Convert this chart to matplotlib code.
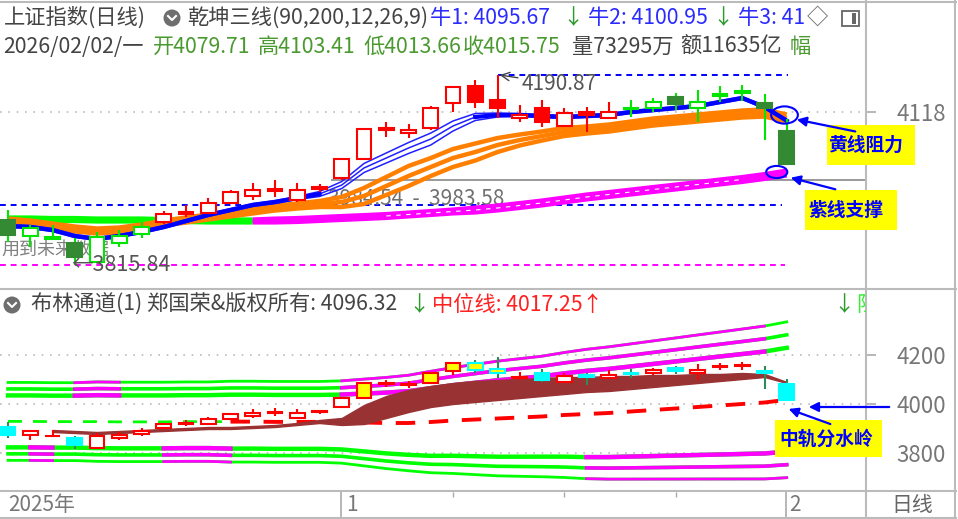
import matplotlib.pyplot as plt
from matplotlib.lines import Line2D
from matplotlib.patches import Rectangle, Ellipse, FancyArrowPatch

plt.rcParams['font.family'] = ['Noto Sans CJK SC', 'DejaVu Sans']

W, H = 958, 519

# daily bars 2025-12-11 .. 2026-02-02
opens = [3904.9, 3873.4, 3867.5, 3859.6, 3822.1, 3859.6, 3877.3, 3901.0, 3916.8, 3918.7,
         3938.5, 3952.3, 3962.1, 3944.4, 3966.1, 3987.8, 4025.2, 4082.4, 4076.5, 4086.3,
         4135.7, 4169.2, 4141.6, 4106.1, 4125.8, 4090.3, 4117.9, 4106.1, 4125.8, 4125.8,
         4147.5, 4125.8, 4149.5, 4155.4, 4135.7, 4079.71]
highs = [3924.6, 3895.1, 3895.1, 3869.4, 3881.3, 3885.2, 3901.0, 3922.7, 3934.5, 3948.3,
         3964.1, 3977.9, 3983.8, 3977.9, 3976.0, 4027.2, 4086.3, 4098.2, 4094.2, 4129.7,
         4169.2, 4181.0, 4190.87, 4131.7, 4141.6, 4125.8, 4127.8, 4137.6, 4141.6, 4145.5,
         4155.4, 4161.3, 4169.2, 4171.1, 4153.4, 4103.41]
lows = [3861.5, 3851.7, 3865.5, 3815.84, 3820.0, 3851.7, 3869.4, 3897.0, 3910.8, 3916.8,
        3936.5, 3944.4, 3950.3, 3940.4, 3960.1, 3983.8, 4023.3, 4068.6, 4066.6, 4082.4,
        4117.9, 4125.8, 4106.1, 4098.2, 4088.3, 4088.3, 4078.5, 4104.1, 4108.1, 4117.9,
        4121.8, 4098.2, 4137.6, 4139.6, 4062.7, 4013.66]
closes = [3875.3, 3889.1, 3871.4, 3832.0, 3871.4, 3873.4, 3891.1, 3916.8, 3920.7, 3938.5,
          3960.1, 3964.1, 3966.1, 3964.1, 3970.0, 4025.2, 4084.4, 4086.3, 4082.4, 4125.8,
          4167.2, 4137.6, 4125.8, 4112.0, 4098.2, 4115.9, 4112.0, 4117.9, 4123.8, 4137.6,
          4133.7, 4137.6, 4153.4, 4159.3, 4125.8, 4015.75]
# candle colouring used by the 乾坤三线 panel
top_style = (['dg', 'gh', 'gh', 'dg', 'gh', 'gh', 'gh'] + ['rh'] * 14 +
             ['rf', 'rf', 'rh', 'rf', 'rh', 'rf', 'rh', 'gh', 'gh', 'dg', 'gh', 'gh', 'gh', 'dg', 'dg'])
above_band = [16, 17, 18, 19, 20, 21, 22]  # yellow-filled bars in 布林通道

# 乾坤三线 lines
bull = [3893.1, 3891.1, 3885.1, 3873.4, 3867.5, 3873.4, 3881.3, 3891.1, 3902.9, 3914.8,
        3924.6, 3934.5, 3940.4, 3948.3, 3956.2, 3973.9, 4007.5, 4027.2, 4046.9, 4064.6,
        4090.3, 4108.1, 4112.0, 4112.0, 4110.0, 4108.1, 4110.0, 4112.0, 4117.9, 4121.8,
        4125.8, 4129.7, 4137.6, 4145.5, 4127.8, 4100.9]
bull_gap = [3.0] * 14 + [4.9, 6.9, 8.9, 9.9, 10.8, 11.8, 9.9, 6.9, 3.9] + [3.0] * 13
yellow = [3902.9, 3899.0, 3893.1, 3887.2, 3883.2, 3885.2, 3891.1, 3899.0, 3904.9, 3910.8,
          3916.8, 3922.7, 3928.6, 3932.5, 3936.5, 3940.4, 3952.3, 3972.0, 3991.7, 4009.4,
          4027.2, 4039.0, 4052.8, 4062.7, 4070.6, 4078.5, 4082.4, 4086.3, 4092.3, 4098.2,
          4102.1, 4106.1, 4110.0, 4114.0, 4115.9, 4106.1]
yellow_gap = [4.9] * 14 + [5.9, 9.9, 15.8, 17.7, 19.7, 17.7, 17.7, 16.8, 13.8, 10.8, 8.9, 7.9] + [6.9] * 10
bear = [3906.9, 3906.9, 3905.9, 3905.9, 3904.9, 3904.9, 3904.9, 3903.9, 3903.9, 3903.0,
        3903.0, 3903.0, 3903.9, 3904.9, 3906.9, 3908.9, 3910.8, 3912.8, 3915.8, 3918.7,
        3921.7, 3924.6, 3928.6, 3933.5, 3938.5, 3944.4, 3950.3, 3955.2, 3960.1, 3965.1,
        3970.0, 3974.9, 3979.9, 3984.8, 3990.7, 3997.6]
bear_gap = [3.0] * 12 + [3.9] * 9 + [4.9] * 15
high_mark, low_mark = 4190.87, 3815.84
support_line, gray_line = 3934.5, 3983.58

# 布林通道
boll_mid = [3929, 3929, 3928, 3928, 3928, 3927, 3927, 3927, 3928, 3928,
            3928, 3928, 3927, 3927, 3927, 3926.5, 3924.5, 3922.4, 3922.4, 3926.5,
            3932.6, 3936.7, 3940.8, 3944.9, 3949.0, 3955.1, 3959.2, 3963.3, 3969.4, 3975.5,
            3981.6, 3987.8, 3993.9, 4000.0, 4006.1, 4017.25]
boll_std = [53, 53, 53, 53, 54, 54, 54, 54, 54, 54, 55, 55, 55, 55, 55, 56, 59, 62,
            65, 69, 72, 75, 78, 80, 82, 85, 88, 90, 92, 94, 96, 98, 100, 102, 104, 106]
upper_hot = [(3, 5), (15, 34)]
lower_hot = [(1, 2), (7, 10), (26, 35)]
brown_top = [3893.9, 3889.8, 3885.7, 3889.8, 3893.9, 3898.0, 3902.0, 3906.1, 3906.1, 3910.2,
             3914.3, 3922.4, 3934.7, 3942.9, 3995.9, 4032.7, 4057.1, 4073.5, 4085.7, 4093.9,
             4098.0, 4102.1, 4106.1, 4110.2, 4110.2, 4114.3, 4114.3, 4118.4, 4118.4, 4122.5,
             4122.5, 4126.5, 4122.5, 4089.8]
brown_bot = [3885.7, 3881.6, 3877.5, 3881.6, 3885.7, 3889.8, 3893.9, 3898.0, 3898.0, 3902.0,
             3906.1, 3914.3, 3922.4, 3914.3, 3918.4, 3942.9, 3967.3, 3987.8, 4000.0, 4008.2,
             4016.3, 4024.5, 4032.7, 4040.8, 4049.0, 4053.1, 4061.2, 4069.4, 4077.6, 4085.7,
             4093.9, 4102.0, 4110.2, 4085.7]

n = len(closes)
xs = list(range(n))
RED, CYAN, YEL = '#ff0000', '#00ffff', '#ffff00'
LGREEN, DGREEN, MAG = '#00e600', '#338a33', '#ff00ff'
BLUE, ORANGE, BROWN = '#0000ff', '#ff8000', '#993333'
GRAY_T = '#555555'
HDR = 15.3


def fig_xy(px, py):
    return px / W, 1 - py / H


fig = plt.figure(figsize=(W / 100, H / 100), dpi=100)
XL = (-8 / 22.25, 858 / 22.25)

ax_top = fig.add_axes([0, 1 - 288 / H, 866 / W, 228 / H])
ax_bot = fig.add_axes([0, 1 - 492 / H, 866 / W, 202 / H])
ax_bar = fig.add_axes([0, 1 - 518 / H, 866 / W, 26 / H])
for ax in (ax_top, ax_bot, ax_bar):
    ax.set_xlim(*XL)
    for s in ax.spines.values():
        s.set_visible(False)
    ax.set_xticks([])
ax_top.set_ylim(3770.8, 4220.5)
ax_bot.set_ylim(3640.8, 4465.3)
ax_bar.set_ylim(0, 1)
ax_bar.set_yticks([])

for ax, ticks in ((ax_top, [4118]), (ax_bot, [3800, 4000, 4200])):
    ax.yaxis.tick_right()
    ax.set_yticks(ticks)
    ax.tick_params(axis='y', length=7, width=1.2, color='#aaaaaa', labelsize=16,
                   labelcolor='#777777', pad=15)
    for t in ticks:
        ax.axhline(t, color='#bbbbbb', lw=1.2, ls=(0, (1, 4)), zorder=0)


def draw_candle(ax, i, fc, ec, wc, w=0.66, lw=1.5):
    o, h, l, c = opens[i], highs[i], lows[i], closes[i]
    ax.vlines(i, l, h, color=wc, lw=lw, zorder=7)
    lo, hi = min(o, c), max(o, c)
    ax.add_patch(Rectangle((i - w / 2, lo), w, max(hi - lo, 0.3), fc=fc, ec=ec, lw=lw, zorder=8))


def three(ax, mid, gap, i0, i1, **kw):
    for s in (-1, 0, 1):
        ax.plot(xs[i0:i1 + 1], [m + s * g for m, g in zip(mid[i0:i1 + 1], gap[i0:i1 + 1])],
                solid_capstyle='butt', **kw)


# ---------------- top panel: 乾坤三线 ----------------
ax_top.hlines(high_mark, 22, 35.05, color=BLUE, lw=1.4, ls=(0, (3, 2.5)), zorder=2)
ax_top.hlines(support_line, XL[0], 34.8, color=BLUE, lw=1.4, ls=(0, (3, 2.5)), zorder=2)
ax_top.hlines(low_mark, XL[0], 34.9, color=MAG, lw=1.4, ls=(0, (3, 2.5)), zorder=2)
ax_top.hlines(gray_line, 14.5, XL[1], color='#999999', lw=1.4, zorder=2)

ax_top.text(-0.28, 3846, '用到未来数据', fontsize=13, color='#808080', va='center', zorder=1)
ax_top.text(14.4, 3946, '3984.54  -  3983.58', fontsize=15, color='#707070', va='center', zorder=3)

three(ax_top, bear, bear_gap, 0, 11, color='#00ff00', lw=3, zorder=3)
three(ax_top, bear, bear_gap, 11, 35, color=MAG, lw=3, zorder=3)
ax_top.plot(xs[17:34], bear[17:34], color='white', lw=0.8, ls=(0, (4, 5)), zorder=3)
three(ax_top, yellow, yellow_gap, 0, 35, color=ORANGE, lw=3.2, zorder=4)
three(ax_top, bull, bull_gap, 0, 35, color='#2020ff', lw=1.1, zorder=5)
for a, b in ((0, 14), (21, 35)):
    ax_top.plot(xs[a:b + 1], bull[a:b + 1], color=BLUE, lw=3, zorder=5)

top_colors = {'rh': ('white', RED, RED), 'rf': (RED, RED, RED),
              'gh': ('white', LGREEN, LGREEN), 'dg': (DGREEN, DGREEN, LGREEN)}
for i in xs:
    draw_candle(ax_top, i, *top_colors[top_style[i]])

ax_top.annotate('4190.87', xy=(22.1, high_mark), xytext=(23.1, 4173), fontsize=15,
                color=GRAY_T, va='center', zorder=9,
                arrowprops=dict(arrowstyle='->', color='#444444', lw=1, shrinkA=1, shrinkB=0))
ax_top.text(2.85, 3816, '←3815.84', fontsize=15.5, color=GRAY_T, va='center', zorder=9)

ax_top.add_patch(Ellipse((34.9, 4112), 1.2, 34, fill=False, ec=BLUE, lw=1.5, zorder=10))
ax_top.add_patch(Ellipse((34.55, 3999.6), 0.95, 24, fill=False, ec=BLUE, lw=1.5, zorder=10))

# ---------------- bottom panel: 布林通道 ----------------
for k, lw in ((2.0, 3.2), (2.5, 2.6), (3.0, 2.0)):
    up = [m + k * s for m, s in zip(boll_mid, boll_std)]
    dn = [m - k * s for m, s in zip(boll_mid, boll_std)]
    ax_bot.plot(xs, up, color='#00ff00', lw=lw, zorder=2)
    ax_bot.plot(xs, dn, color='#00ff00', lw=lw, zorder=2)
    for a, b in upper_hot:
        ax_bot.plot(xs[a:b + 1], up[a:b + 1], color=MAG, lw=lw, zorder=2)
    for a, b in lower_hot:
        ax_bot.plot(xs[a:b + 1], dn[a:b + 1], color=MAG, lw=lw, zorder=2)

ax_bot.plot(xs[:11], boll_mid[:11], color='#00ff00', lw=2, ls=(0, (5, 4)), zorder=3)
ax_bot.plot(xs[10:], boll_mid[10:], color=RED, lw=2.8, ls=(0, (5, 3.5)), zorder=3)

ax_bot.fill_between(xs[2:], brown_bot, brown_top, color=BROWN, lw=1, zorder=4)

for i in xs:
    if closes[i] >= opens[i]:
        draw_candle(ax_bot, i, YEL if i in above_band else 'white', RED, RED)
    else:
        draw_candle(ax_bot, i, YEL if i in above_band else CYAN, CYAN, '#2e8b57')

# ---------------- date bar ----------------
for i in (15, 35):
    ax_bar.axvline(i - 0.05, color='#aaaaaa', lw=1.2)
for i in (20, 25, 30):
    ax_bar.vlines(i, 0.8, 1, color='#aaaaaa', lw=1)


def put(px, py, s, color, size=HDR, **kw):
    return fig.text(*fig_xy(px, py), s, fontsize=size, color=color, va='center', **kw)


put(8, 505, '2025年', '#777777', size=15)
put(346, 505, '1', '#777777', size=15)
put(789, 505, '2', '#777777', size=15)
put(912, 505, '日线', '#666666', size=15, ha='center')


# ---------------- headers ----------------
def chevron_icon(px, py):
    fig.add_artist(Ellipse(fig_xy(px, py), 17 / W, 17 / H, transform=fig.transFigure,
                           fc='#6e6e6e', ec='none'))
    fig.add_artist(Line2D([(px - 4) / W, px / W, (px + 4) / W],
                          [1 - (py - 2) / H, 1 - (py + 2) / H, 1 - (py - 2) / H],
                          color='white', lw=1.5, transform=fig.transFigure))


GREEN_T, BLUE_T, DARK_T = '#4a9a30', '#2b2bff', '#444444'
put(4, 18, '上证指数(日线)', DARK_T)
chevron_icon(172, 18)
put(187, 18, '乾坤三线(90,200,12,26,9)', DARK_T)
put(430, 18, '牛1: 4095.67', BLUE_T)
put(562, 18, '↓', '#2e9a2e')
put(588, 18, '牛2: 4100.95', BLUE_T)
put(712, 18, '↓', '#2e9a2e')
put(738, 18, '牛3: 41', BLUE_T)
put(807, 18, '◇', '#666666')
fig.add_artist(Rectangle(fig_xy(842, 26), 17 / W, 15 / H, transform=fig.transFigure,
                         fc='white', ec='#666666', lw=1.3))
fig.add_artist(Rectangle(fig_xy(852, 24), 4 / W, 11 / H, transform=fig.transFigure,
                         fc='#666666', ec='none'))

put(3, 47, '2026/02/02/一', DARK_T)
put(153, 47, '开4079.71', GREEN_T)
put(258, 47, '高4103.41', GREEN_T)
put(363, 47, '低4013.66', GREEN_T)
put(463, 47, '收4015.75', GREEN_T)
put(572, 47, '量73295万', DARK_T)
put(680, 47, '额11635亿', DARK_T)
put(790, 47, '幅', GREEN_T)

chevron_icon(12, 305)
put(31, 305, '布林通道(1) 郑国荣&版权所有: 4096.32', DARK_T)
put(408, 305, '↓', '#2e9a2e')
put(432, 305, '中位线: 4017.25', '#ff2020')
put(581, 305, '↑', '#ff2020')
put(833, 305, '↓', '#2e9a2e')
t = put(856, 305, '阻', '#33ee33')
t.set_clip_box(ax_bot.bbox)
t.set_clip_on(True)


# ---------------- frame lines ----------------
def hline(py, x0=0, x1=956, c='#bbbbbb', lw=1.5):
    fig.add_artist(Line2D([x0 / W, x1 / W], [1 - py / H] * 2, color=c, lw=lw, transform=fig.transFigure))


def vline(px, y0=0, y1=H, c='#bbbbbb', lw=1.5):
    fig.add_artist(Line2D([px / W] * 2, [1 - y0 / H, 1 - y1 / H], color=c, lw=lw, transform=fig.transFigure))


hline(2)
hline(289)
hline(491)
hline(518)
vline(866)
vline(955)


# ---------------- annotations ----------------
def label(cx, cy, bx0, by0, bx1, by1, s):
    fig.add_artist(Rectangle(fig_xy(bx0, by1), (bx1 - bx0) / W, (by1 - by0) / H,
                             transform=fig.transFigure, fc=YEL, ec='none', zorder=20))
    fig.text(*fig_xy(cx, cy), s, fontsize=13.5, color=BLUE, fontweight='bold',
             ha='center', va='center', zorder=21)


def arrow(x0, y0, x1, y1):
    fig.add_artist(FancyArrowPatch(
        fig_xy(x0, y0), fig_xy(x1, y1), transform=fig.transFigure, arrowstyle='-|>',
        mutation_scale=14, color=BLUE, lw=1.6, zorder=21))


label(866, 145, 827, 125, 915, 165, '黄线阻力')
label(846, 210, 805, 190, 897, 230, '紫线支撑')
label(826, 439, 775, 420, 882, 457, '中轨分水岭')
arrow(858, 132, 794, 119)
arrow(838, 190, 788, 177)
arrow(892, 407, 806, 407)
arrow(833, 425, 786, 408)

fig.savefig('out.png', dpi=100)
